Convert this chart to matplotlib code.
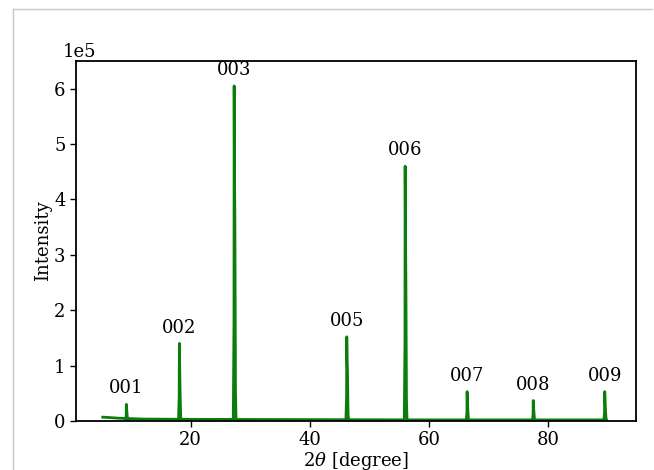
import numpy as np
import matplotlib
matplotlib.use("Agg")
import matplotlib.pyplot as plt
from matplotlib.lines import Line2D

plt.rcParams["font.family"] = ["DejaVu Serif"]
plt.rcParams["mathtext.fontset"] = "dejavuserif"

# Reflection labels, peak positions (2theta, degrees) and intensities (counts)
hkl_labels = ["001", "002", "003", "005", "006", "007", "008", "009"]
peak_2theta = [9.2, 18.1, 27.3, 46.2, 56.0, 66.4, 77.5, 89.5]
peak_intensity = [0.30e5, 1.40e5, 6.05e5, 1.52e5, 4.60e5, 0.53e5, 0.37e5, 0.53e5]
# K-alpha2 shoulder on the high-angle side of each reflection
shoulder_intensity = [0.12e5, 0.55e5, 3.60e5, 0.85e5, 2.60e5, 0.20e5, 0.15e5, 0.22e5]

# Background level sampled along the scan
bg_2theta = [5.0, 6.0, 8.0, 12.0, 20.0, 40.0, 60.0, 80.0, 90.0]
bg_intensity = [0.07e5, 0.065e5, 0.05e5, 0.035e5, 0.03e5, 0.025e5, 0.02e5, 0.02e5, 0.02e5]

line_color = "#0a7d0a"

fig = plt.figure(figsize=(6.54, 4.70), dpi=100)
ax = fig.add_axes([76 / 654, 49 / 470, 560 / 654, 360 / 470])

ax.plot(bg_2theta, bg_intensity, color=line_color, lw=2.0, solid_capstyle="butt")

# each reflection drawn as a narrow profile: sharp K-alpha1 top with K-alpha2 shoulder
for x0, h, h2 in zip(peak_2theta, peak_intensity, shoulder_intensity):
    xs = [x0 - 0.15, x0 - 0.03, x0, x0 + 0.05, x0 + 0.12, x0 + 0.22, x0 + 0.32]
    ys = [0.0, 0.3 * h, h, 0.75 * h, h2, 0.15 * h2, 0.0]
    ax.plot(xs, ys, color=line_color, lw=2.0)

for lab, x0, h in zip(hkl_labels, peak_2theta, peak_intensity):
    ax.annotate(lab, (x0, h), xytext=(0, 5), textcoords="offset points",
                ha="center", va="bottom", fontsize=13)

ax.set_xlim(0.75, 94.75)
ax.set_ylim(0, 6.5e5)
ax.set_xticks([20, 40, 60, 80])
ax.set_yticks(np.arange(0, 7) * 1e5)
ax.ticklabel_format(axis="y", style="sci", scilimits=(5, 5))
ax.tick_params(labelsize=13, width=1.0, length=4)
offset = ax.yaxis.get_offset_text()
offset.set_fontsize(13)
offset.set_x(-13 / 560)
for s in ax.spines.values():
    s.set_linewidth(1.3)

ax.set_xlabel(r"$2\theta$ [degree]", fontsize=13, va="baseline")
ax.xaxis.set_label_coords(0.5, -(465.5 - 421) / 360)
ax.set_ylabel("Intensity", fontsize=13, labelpad=1.5)

# light grey border along the top and left edge of the sheet
fig.add_artist(Line2D([13 / 654, 13 / 654], [0, 1 - 9 / 470], transform=fig.transFigure,
                      color="#c8c8c8", lw=1.0))
fig.add_artist(Line2D([13 / 654, 652 / 654], [1 - 9 / 470, 1 - 9 / 470], transform=fig.transFigure,
                      color="#c8c8c8", lw=1.0))

fig.savefig("out.png", dpi=100)
